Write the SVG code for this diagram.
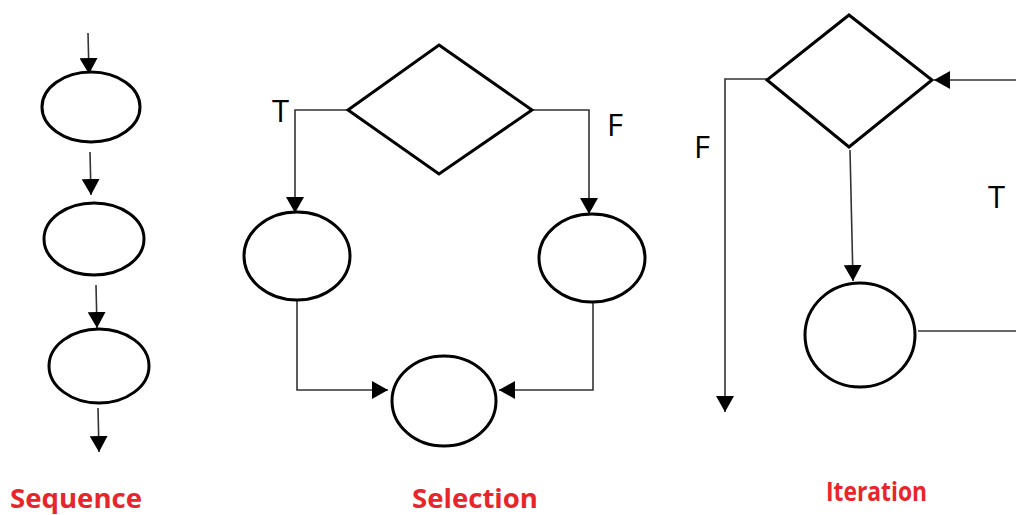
<svg xmlns="http://www.w3.org/2000/svg" width="1016" height="515" viewBox="0 0 1016 515">
<style>
.shape{fill:#fff;stroke:#000;stroke-width:3}
.conn{fill:none;stroke:#333;stroke-width:1.6}
.tf{font-family:"Open Sans","Liberation Sans",sans-serif;font-size:31px;fill:#000}
.title{font-family:"Open Sans","Liberation Sans",sans-serif;font-weight:bold;font-size:27px;fill:#e8252b}
</style>
<defs>
<marker id="ah" markerUnits="userSpaceOnUse" markerWidth="17" markerHeight="18" refX="16" refY="9" orient="auto">
<path d="M0,0 L16,9 L0,18 Z" fill="#000"/>
</marker>
</defs>
<rect width="1016" height="515" fill="#fff"/>
<g id="connectors">
<line class="conn" x1="88" y1="33" x2="89" y2="74" marker-end="url(#ah)"/>
<line class="conn" x1="90" y1="152" x2="91" y2="195" marker-end="url(#ah)"/>
<line class="conn" x1="96" y1="285" x2="97" y2="328" marker-end="url(#ah)"/>
<line class="conn" x1="98" y1="408" x2="99" y2="452" marker-end="url(#ah)"/>
<polyline class="conn" points="348,110 295,110 295,213" marker-end="url(#ah)"/>
<polyline class="conn" points="532,110 589,110 589,214" marker-end="url(#ah)"/>
<polyline class="conn" points="297,300 297,390 388,390" marker-end="url(#ah)"/>
<polyline class="conn" points="593,303 593,390 499,390" marker-end="url(#ah)"/>
<polyline class="conn" points="767,79 725,79 725,412" marker-end="url(#ah)"/>
<line class="conn" x1="850" y1="150" x2="853" y2="281" marker-end="url(#ah)"/>
<line class="conn" x1="918" y1="331" x2="1016" y2="331"/>
<line class="conn" x1="1016" y1="80" x2="934" y2="80" marker-end="url(#ah)"/>
</g>
<g id="seq1"><ellipse class="shape" cx="91" cy="107" rx="49" ry="35"/></g>
<g id="seq2"><ellipse class="shape" cx="94" cy="239" rx="50" ry="36"/></g>
<g id="seq3"><ellipse class="shape" cx="99" cy="366" rx="50" ry="37"/></g>
<g id="sel-decision"><polygon class="shape" points="439,45 532,110 439,174 348,110"/></g>
<g id="sel-true"><ellipse class="shape" cx="297" cy="256" rx="53" ry="44"/></g>
<g id="sel-false"><ellipse class="shape" cx="592" cy="258" rx="53" ry="44"/></g>
<g id="sel-join"><ellipse class="shape" cx="444" cy="401" rx="52" ry="45"/></g>
<g id="it-decision"><polygon class="shape" points="849,15 932,80 849,147 767,80"/></g>
<g id="it-body"><ellipse class="shape" cx="860" cy="335" rx="55" ry="52"/></g>
<g id="labels">
<text class="tf" x="272" y="122">T</text>
<text class="tf" x="607" y="136">F</text>
<text class="tf" x="694" y="158">F</text>
<text class="tf" x="988" y="208">T</text>
<text class="title" x="10" y="508" textLength="132" lengthAdjust="spacingAndGlyphs">Sequence</text>
<text class="title" x="412" y="508" textLength="126" lengthAdjust="spacingAndGlyphs">Selection</text>
<text class="title" x="826" y="501" textLength="101" lengthAdjust="spacingAndGlyphs">Iteration</text>
</g>
</svg>
